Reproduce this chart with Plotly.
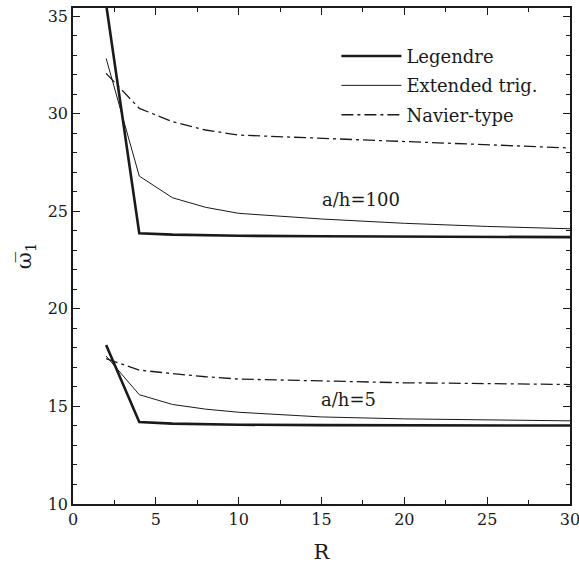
import plotly.graph_objects as go

# Aspect ratio R and the corresponding non-dimensional fundamental frequency
R = [2, 4, 6, 8, 10, 15, 20, 25, 30]

legendre_100 = [35.6, 23.87, 23.80, 23.76, 23.74, 23.72, 23.70, 23.69, 23.67]
ext_trig_100 = [32.83, 26.80, 25.69, 25.20, 24.89, 24.60, 24.38, 24.22, 24.10]
navier_100 = [32.06, 30.27, 29.59, 29.16, 28.90, 28.73, 28.56, 28.39, 28.24]

legendre_5 = [18.15, 14.20, 14.12, 14.08, 14.06, 14.04, 14.03, 14.02, 14.02]
ext_trig_5 = [17.58, 15.60, 15.10, 14.86, 14.70, 14.46, 14.36, 14.30, 14.26]
navier_5 = [17.45, 16.86, 16.68, 16.52, 16.40, 16.30, 16.21, 16.17, 16.12]

series_names = ["Legendre", "Extended trig.", "Navier-type"]
labels = ["a/h=100", "a/h=5"]

FONT = "DejaVu Serif, serif"
INK = "#1a1a1a"

styles = {
    "Legendre": dict(color=INK, width=2.6),
    "Extended trig.": dict(color=INK, width=1.0),
    "Navier-type": dict(color=INK, width=1.3, dash="12px,4px,3px,4px"),
}

fig = go.Figure()

groups = [
    (legendre_100, ext_trig_100, navier_100),
    (legendre_5, ext_trig_5, navier_5),
]
for gi, group in enumerate(groups):
    for name, vals in zip(series_names, group):
        fig.add_trace(go.Scatter(
            x=R, y=vals, mode="lines", name=name,
            line=styles[name], legendgroup=name,
            showlegend=(gi == 0),
        ))

fig.add_annotation(x=17.4, y=25.62, text=labels[0], showarrow=False,
                   font=dict(family=FONT, size=18, color=INK))
fig.add_annotation(x=16.6, y=15.33, text=labels[1], showarrow=False,
                   font=dict(family=FONT, size=18, color=INK))

axis_common = dict(
    showline=True, linecolor=INK, linewidth=1.5, mirror="ticks",
    ticks="inside", ticklen=7, tickwidth=1, tickcolor=INK,
    showgrid=False, zeroline=False, automargin=False,
    ticklabeloverflow="allow",
    tickfont=dict(family=FONT, size=16, color=INK),
)

fig.update_xaxes(
    range=[0, 30], dtick=5, tick0=0,
    minor=dict(ticks="inside", ticklen=4, dtick=2.5, tickcolor=INK),
    title=dict(text="R", font=dict(family=FONT, size=21, color=INK), standoff=16),
    **axis_common,
)
fig.update_yaxes(
    range=[10, 35.41], dtick=5, tick0=0,
    minor=dict(ticks="inside", ticklen=4, dtick=1, tickcolor=INK),
    title=dict(text="ω\u0305<sub>1</sub>", font=dict(family=FONT, size=21, color=INK), standoff=10),
    **axis_common,
)

fig.update_layout(
    width=579, height=569,
    margin=dict(l=73, r=9, t=8, b=65),
    paper_bgcolor="white", plot_bgcolor="white",
    font=dict(family=FONT, color=INK),
    showlegend=True,
    legend=dict(
        x=0.53, y=0.94, xanchor="left", yanchor="top",
        bgcolor="rgba(0,0,0,0)", borderwidth=0,
        font=dict(family=FONT, size=18, color=INK),
        itemwidth=60, tracegroupgap=3, traceorder="grouped",
    ),
)

fig.write_html("out.html")
